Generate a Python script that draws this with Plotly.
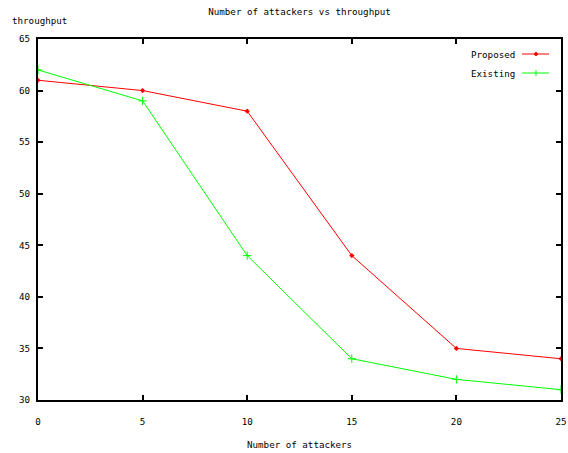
import plotly.graph_objects as go

attackers = [0, 5, 10, 15, 20, 25]
proposed = [61, 60, 58, 44, 35, 34]
existing = [62, 59, 44, 34, 32, 31]
series_names = ["Proposed", "Existing"]
y_ticks = [30, 35, 40, 45, 50, 55, 60, 65]
x_ticks = [0, 5, 10, 15, 20, 25]

W, H = 568, 453
L, R, T, B = 38, 7, 39, 53
pw, ph = W - L - R, H - T - B
FONT = dict(family="DejaVu Sans Mono", size=9.2, color="black")

fig = go.Figure()
fig.add_trace(go.Scatter(x=attackers, y=proposed, mode="lines+markers", name=series_names[0],
                         line=dict(color="#ff0000", width=1),
                         marker=dict(symbol="diamond", size=4, color="#ff0000")))
fig.add_trace(go.Scatter(x=attackers, y=existing, mode="lines+markers", name=series_names[1],
                         line=dict(color="#00ff00", width=1),
                         marker=dict(symbol="cross-thin", size=6, line=dict(color="#00ff00", width=1))))

def px(xp):
    return (xp - L) / pw

def py(yp):
    return (H - B - yp) / ph

# manual legend (text left of sample, gnuplot-style)
colors = ["#ff0000", "#00ff00"]
for i, name in enumerate(series_names):
    yy = 54 + i * 19
    fig.add_annotation(x=px(517), y=py(yy), xref="paper", yref="paper", text=name,
                       showarrow=False, xanchor="right", yanchor="middle", font=FONT)
    fig.add_shape(type="line", xref="paper", yref="paper", x0=px(522), x1=px(549),
                  y0=py(yy), y1=py(yy), line=dict(color=colors[i], width=1))
    if i == 0:
        fig.add_shape(type="circle", xref="paper", yref="paper", x0=px(534.5), x1=px(537.5),
                      y0=py(yy - 1.5), y1=py(yy + 1.5), line=dict(color=colors[i], width=1),
                      fillcolor=colors[i])
    else:
        fig.add_shape(type="line", xref="paper", yref="paper", x0=px(536), x1=px(536),
                      y0=py(yy - 3), y1=py(yy + 3), line=dict(color=colors[i], width=1))

fig.add_annotation(x=px(10), y=py(20), xref="paper", yref="paper", text="throughput",
                   showarrow=False, xanchor="left", yanchor="middle", font=FONT)
fig.add_annotation(x=0.5, y=py(445), xref="paper", yref="paper", text="Number of attackers",
                   showarrow=False, xanchor="center", yanchor="middle", font=FONT)

fig.update_layout(
    width=W, height=H, margin=dict(l=L, r=R, t=T, b=B, autoexpand=False),
    paper_bgcolor="white", plot_bgcolor="white", showlegend=False,
    font=FONT,
    title=dict(text="Number of attackers vs throughput", x=0.5, xref="paper",
               y=1 - 12 / H, yanchor="middle", font=FONT),
)
fig.update_xaxes(range=[0, 25], tickvals=x_ticks, ticks="inside", ticklen=5, tickwidth=2,
                 tickcolor="black", showline=True, linecolor="black", linewidth=2,
                 mirror="allticks", showgrid=False, zeroline=False, ticklabelstandoff=12,
                 automargin=False, ticklabeloverflow="allow")
fig.update_yaxes(range=[30, 65], tickvals=y_ticks, ticks="inside", ticklen=5, tickwidth=2,
                 tickcolor="black", showline=True, linecolor="black", linewidth=2,
                 mirror="allticks", showgrid=False, zeroline=False, ticklabelstandoff=4,
                 automargin=False, ticklabeloverflow="allow")

fig.write_html("out.html", config={"displayModeBar": False},
               post_script="document.body.style.margin='0';document.body.style.overflow='hidden';")
